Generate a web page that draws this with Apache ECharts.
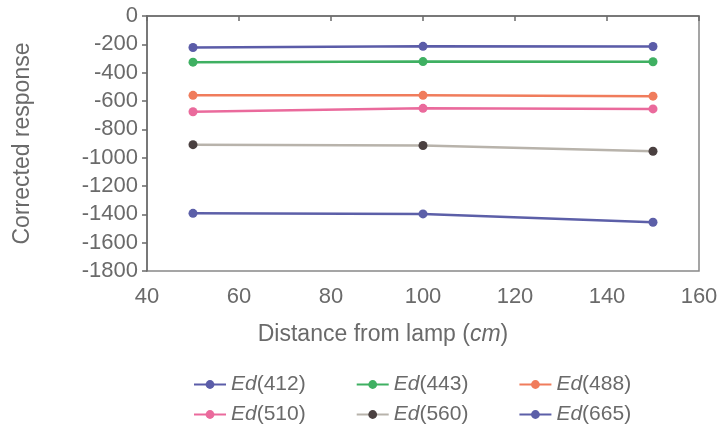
<!DOCTYPE html>
<html>
<head>
<meta charset="utf-8">
<script src="https://cdn.jsdelivr.net/npm/echarts@6/dist/echarts.min.js"></script>
<style>html,body{margin:0;padding:0;background:#fff;}#c{width:721px;height:434px;}</style>
</head>
<body>
<div id="c"></div>
<script>
var distances = [50, 100, 150];
var seriesNames = ['412', '443', '488', '510', '560', '665'];
var ed412 = [-222, -214, -215];
var ed443 = [-326, -322, -323];
var ed488 = [-560, -560, -566];
var ed510 = [-676, -652, -656];
var ed560 = [-908, -914, -955];
var ed665 = [-1393, -1397, -1456];
var xTicks = [40, 60, 80, 100, 120, 140, 160];
var yTicks = [0, -200, -400, -600, -800, -1000, -1200, -1400, -1600, -1800];

var values = [ed412, ed443, ed488, ed510, ed560, ed665];
var lineColors = ['#5b5ca8', '#3fb062', '#f07c5c', '#ea6a9c', '#b8b3ab', '#5c5fa8'];
var markColors = ['#5b5ca8', '#3fb062', '#f07c5c', '#ea6a9c', '#4a4040', '#5c5fa8'];
var font = 'Liberation Sans, Arial, sans-serif';
var txt = '#6a6a6a';

var series = values.map(function (v, i) {
  return {
    name: seriesNames[i],
    type: 'line',
    data: v.map(function (y, j) { return [distances[j], y]; }),
    symbol: 'circle',
    symbolSize: 9,
    lineStyle: { color: lineColors[i], width: 2.5 },
    itemStyle: { color: markColors[i] },
    animation: false
  };
});

function legendFmt(n) { return '{i|Ed}(' + n + ')'; }
var legendBase = {
  orient: 'horizontal',
  itemWidth: 32,
  itemHeight: 11,
  itemGap: 50,
  formatter: legendFmt,
  textStyle: {
    fontFamily: font, fontSize: 21, color: txt,
    rich: { i: { fontStyle: 'italic', fontFamily: font, fontSize: 21, color: txt } }
  }
};

var chart = echarts.init(document.getElementById('c'), null, { renderer: 'canvas' });
chart.setOption({
  backgroundColor: '#fff',
  animation: false,
  grid: { left: 147, right: 22, top: 16, bottom: 163, show: true, borderColor: '#888', borderWidth: 1.5, backgroundColor: 'transparent' },
  legend: [
    Object.assign({}, legendBase, { left: 188, top: 369, data: seriesNames.slice(0, 3) }),
    Object.assign({}, legendBase, { left: 188, top: 399, data: seriesNames.slice(3, 6) })
  ],
  xAxis: {
    type: 'value', min: xTicks[0], max: xTicks[xTicks.length - 1], interval: 20,
    name: 'Distance from lamp ({i|cm})', nameLocation: 'middle', nameGap: 52,
    nameTextStyle: {
      fontFamily: font, fontSize: 23, color: txt, padding: [0, 80, 0, 0],
      rich: { i: { fontStyle: 'italic', fontFamily: font, fontSize: 23, color: txt } }
    },
    axisLine: { lineStyle: { color: '#6a6a6a', width: 1.5 } },
    axisTick: { show: true, length: 5, lineStyle: { color: '#6a6a6a', width: 1.5 } },
    axisLabel: { fontFamily: font, fontSize: 22, color: txt, margin: 15 },
    splitLine: { show: false }
  },
  yAxis: {
    type: 'value', min: yTicks[yTicks.length - 1], max: yTicks[0], interval: 200,
    name: 'Corrected response', nameLocation: 'middle', nameGap: 113, nameRotate: 90,
    nameTextStyle: { fontFamily: font, fontSize: 23, color: txt },
    axisLine: { show: true, lineStyle: { color: '#6a6a6a', width: 1.5 } },
    axisTick: { show: true, length: 5, lineStyle: { color: '#6a6a6a', width: 1.5 } },
    axisLabel: { fontFamily: font, fontSize: 22, color: txt, margin: 9, formatter: function (v) { return String(v); } },
    splitLine: { show: false }
  },
  series: series
});
</script>
</body>
</html>
